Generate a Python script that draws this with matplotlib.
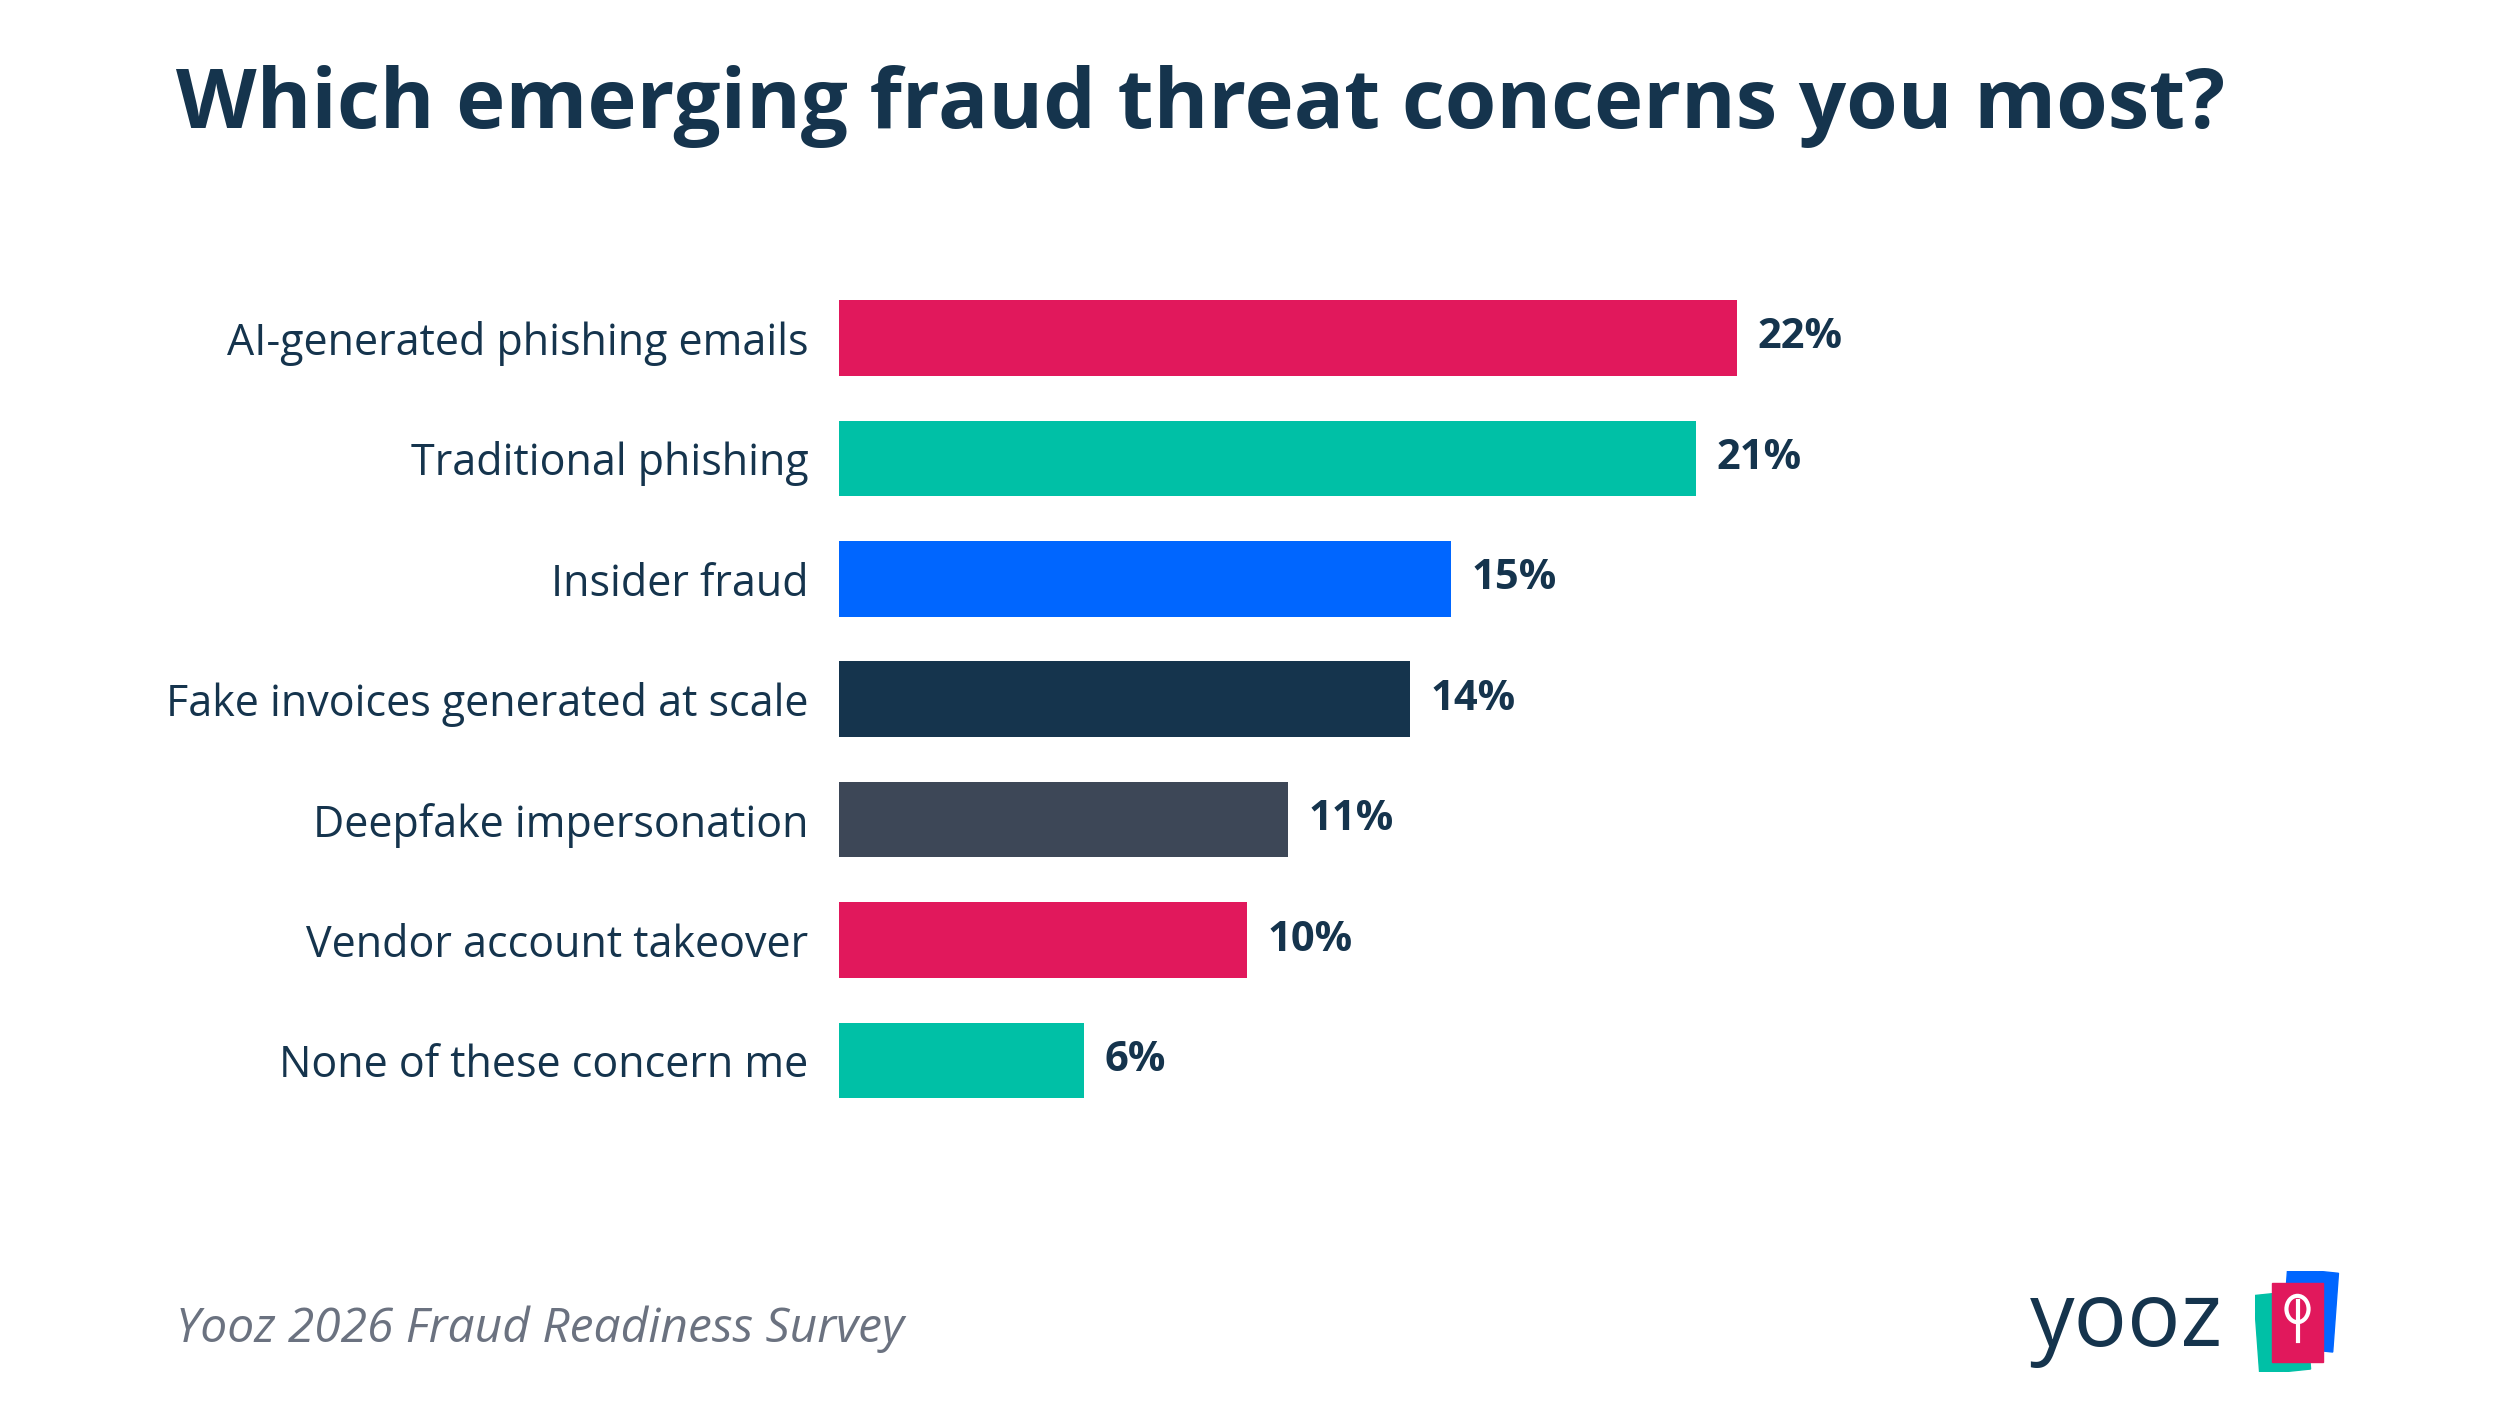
import matplotlib.pyplot as plt
from matplotlib.patches import Rectangle
import matplotlib.transforms as mtransforms

categories = ['AI-generated phishing emails', 'Traditional phishing', 'Insider fraud',
              'Fake invoices generated at scale', 'Deepfake impersonation',
              'Vendor account takeover', 'None of these concern me']
values = [22, 21, 15, 14, 11, 10, 6]
colors = ['#e1185c', '#00c0a6', '#0066ff', '#15344d', '#3d4757', '#e1185c', '#00c0a6']

navy = '#15344d'
plt.rcParams['font.family'] = ['Open Sans', 'DejaVu Sans']

fig = plt.figure(figsize=(25, 14.07), dpi=100)
ax = fig.add_axes([0.3355, 0.2035, 0.4898, 0.5991])
y = list(range(len(categories)))
ax.barh(y, values, height=0.627, color=colors)
ax.set_xlim(0, 30)
ax.set_ylim(len(categories) - 0.5, -0.5)
for i, v in enumerate(values):
    ax.text(v + 0.5, i, f'{v}%', va='center', ha='left', fontsize=30,
            fontweight='bold', color=navy)
ax.set_yticks(y)
ax.set_yticklabels(categories, fontsize=31, color=navy)
ax.tick_params(axis='y', length=0, pad=22)
ax.set_xticks([])
for s in ax.spines.values():
    s.set_visible(False)

fig.text(0.0705, 0.924, 'Which emerging fraud threat concerns you most?', fontsize=60,
         fontweight='bold', color=navy, va='center', ha='left')
fig.text(0.0705, 0.055, 'Yooz 2026 Fraud Readiness Survey', fontsize=34.5,
         style='italic', color='#6b7280', va='center', ha='left')

# logo
fig.text(0.812, 0.06, 'yooz', fontsize=64, color=navy, va='center', ha='left')
lax = fig.add_axes([0.902, 0.025, 0.034, 0.072])
lax.set_xlim(0, 1)
lax.set_ylim(0, 1)
lax.axis('off')
for (x0, y0, c, ang) in [(0.35, 0.22, '#0066ff', -5), (0.02, 0.0, '#00c0a6', 5), (0.2, 0.1, '#e1185c', 0)]:
    r = Rectangle((x0, y0), 0.6, 0.78, color=c)
    r.set_transform(mtransforms.Affine2D().rotate_deg_around(x0 + 0.3, y0 + 0.4, ang) + lax.transData)
    lax.add_patch(r)
lax.plot([0.5, 0.5], [0.3, 0.7], color='white', lw=3)
lax.add_patch(plt.Circle((0.5, 0.62), 0.13, fill=False, ec='white', lw=3))

fig.savefig('out.png', dpi=100, facecolor='white')
